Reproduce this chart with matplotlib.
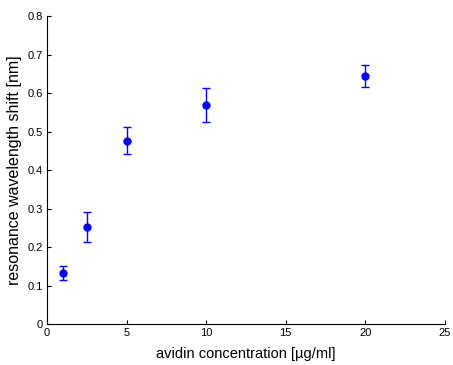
import matplotlib
matplotlib.use("Agg")
import matplotlib.pyplot as plt

plt.rcParams['font.family'] = ['Liberation Sans', 'DejaVu Sans']

# avidin concentration [ug/ml] vs. resonance shift [nm]
conc = [1, 2.5, 5, 10, 20]
shift = [0.132, 0.251, 0.476, 0.568, 0.645]
err = [0.018, 0.039, 0.035, 0.044, 0.029]

fig = plt.figure(figsize=(4.53, 3.65), dpi=100)
ax = fig.add_axes([0.104, 0.112, 0.878, 0.844])

ax.errorbar(conc, shift, yerr=err, fmt='o', color='#0000ff', ms=5,
            elinewidth=1, capsize=3, capthick=1)

ax.set_xlim(0, 25)
ax.set_ylim(0, 0.8)
ax.set_xticks([0, 5, 10, 15, 20, 25])
ax.set_yticks([0, 0.1, 0.2, 0.3, 0.4, 0.5, 0.6, 0.7, 0.8])
ax.set_yticklabels(['0', '0.1', '0.2', '0.3', '0.4', '0.5', '0.6', '0.7', '0.8'])

for s in ['top', 'right']:
    ax.spines[s].set_visible(False)
ax.tick_params(direction='in', length=3, labelsize=8, pad=3)

ax.set_xlabel('avidin concentration [µg/ml]', fontsize=10.5, labelpad=6)
ax.set_ylabel('resonance wavelength shift [nm]', fontsize=11.5, labelpad=4)

fig.savefig('out.png', dpi=100)
